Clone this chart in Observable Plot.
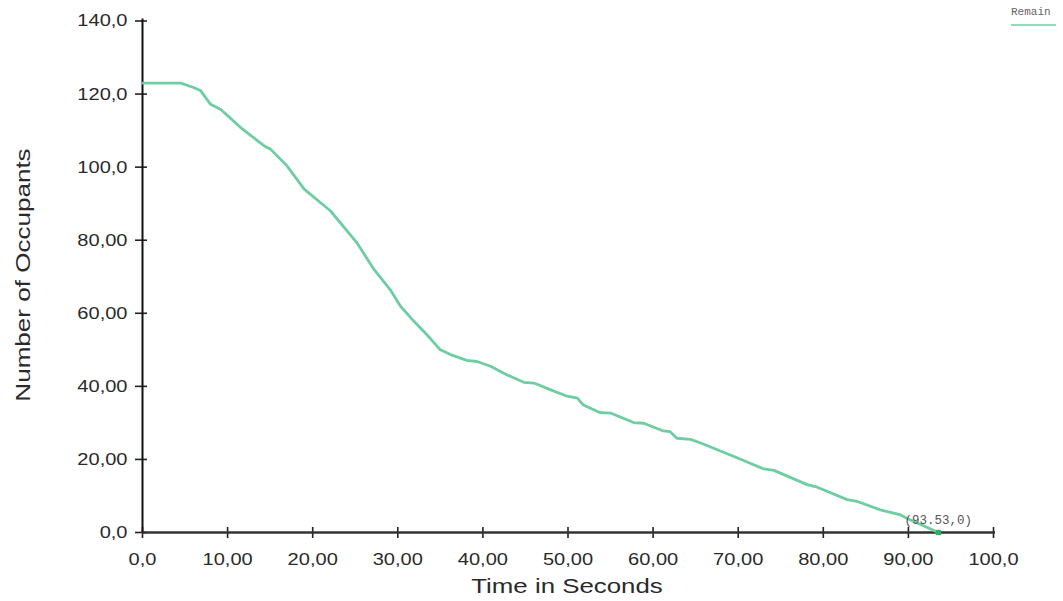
<!DOCTYPE html>
<html>
<head>
<meta charset="utf-8">
<script src="https://cdn.jsdelivr.net/npm/d3@7"></script>
<script src="https://cdn.jsdelivr.net/npm/@observablehq/plot@0.6"></script>
<style>
  body { margin: 0; background: #fff; }
  #wrap { position: relative; width: 1063px; height: 601px; overflow: hidden; }
  .title { position: absolute; font-family: Arial, "Liberation Sans", sans-serif; font-size: 21px; color: #2a2a2a; white-space: nowrap; line-height: 1; }
  #xtitle { left: 567px; top: 575px; transform: translateX(-50%) scaleX(1.23); }
  #ytitle { left: 22px; top: 275px; transform: translate(-50%, -50%) rotate(-90deg) scaleX(1.24); }
  #legend { position: absolute; left: 1011px; top: 6px; font-family: "Liberation Mono", monospace; font-size: 11px; color: #666; }
  #legendline { position: absolute; left: 1011px; top: 24px; width: 45px; height: 2px; background: #8fdcb8; }
</style>
</head>
<body>
<div id="wrap"></div>
<script>
// Series: remaining occupants over time
const time   = [0, 4.5, 6.0, 6.8, 8.0, 9.2, 11.5, 14.3, 15.0, 17.0, 19.0, 22.1, 25.2, 27.2, 28.0, 29.1, 30.3, 31.9, 33.4, 35.0, 36.2, 38.1, 39.3, 40.9, 42.8, 44.8, 46.0, 47.9, 49.9, 51.1, 51.8, 53.8, 55.0, 57.7, 58.9, 61.2, 62.0, 62.8, 64.4, 65.6, 69.5, 73.0, 74.2, 78.1, 79.3, 82.8, 84.0, 86.7, 89.1, 89.8, 93.53];
const remain = [123, 123, 121.8, 121, 117.2, 115.8, 110.9, 105.8, 105, 100.3, 94, 88, 79.3, 72, 69.7, 66.5, 62, 57.8, 54.2, 50, 48.7, 47.1, 46.8, 45.5, 43.2, 41.1, 40.9, 39.1, 37.3, 36.8, 34.9, 32.8, 32.7, 30.1, 29.9, 27.8, 27.6, 25.8, 25.5, 24.5, 20.8, 17.4, 17.0, 13.1, 12.4, 9.0, 8.5, 6.2, 4.8, 3.9, 0];

const xTicks = [0, 10, 20, 30, 40, 50, 60, 70, 80, 90, 100];
const xTickLabels = ["0,0", "10,00", "20,00", "30,00", "40,00", "50,00", "60,00", "70,00", "80,00", "90,00", "100,0"];
const yTicks = [0, 20, 40, 60, 80, 100, 120, 140];
const yTickLabels = ["0,0", "20,00", "40,00", "60,00", "80,00", "100,0", "120,0", "140,0"];

const seriesName = "Remain";
const xTitle = "Time in Seconds";
const yTitle = "Number of Occupants";

const endTime = [93.53];
const endValue = [0];
const endLabel = ["(93.53,0)"];

const rows = time.map((t, i) => ({t, v: remain[i]}));
const endRows = endTime.map((t, i) => ({t, v: endValue[i], label: endLabel[i]}));

const chart = Plot.plot({
  width: 1063,
  height: 601,
  marginLeft: 142,
  marginRight: 70,
  marginTop: 20.5,
  marginBottom: 69,
  x: {domain: [0, 100]},
  y: {domain: [0, 140]},
  style: {fontFamily: "Arial, 'Liberation Sans', sans-serif", background: "#fff", overflow: "visible"},
  marks: [
    Plot.axisY({ticks: yTicks, tickSize: 12, dx: 5, tickFormat: () => "", label: null, stroke: "#222", strokeWidth: 1.6}),
    Plot.axisY({ticks: yTicks, tickSize: 0, tickPadding: 15, tickFormat: d => yTickLabels[yTicks.indexOf(d)], label: null, fontSize: 17, fill: "#2a2a2a"}),
    Plot.axisX({ticks: xTicks, tickSize: 11, dy: -5, tickFormat: () => "", label: null, stroke: "#222", strokeWidth: 1.6}),
    Plot.axisX({ticks: xTicks, tickSize: 0, tickPadding: 20, tickFormat: d => xTickLabels[xTicks.indexOf(d)], label: null, fontSize: 17, fill: "#2a2a2a"}),
    Plot.ruleY([0], {stroke: "#333", strokeWidth: 2.4, insetRight: -2}),
    Plot.ruleX([0], {stroke: "#111", strokeWidth: 2, insetTop: -2}),
    Plot.line(rows, {x: "t", y: "v", stroke: "#6fcda2", strokeWidth: 2.8}),
    Plot.dot(endRows, {x: "t", y: "v", symbol: "square", r: 3, fill: "#2fae63"}),
    Plot.text(endRows, {x: "t", y: "v", text: "label", textAnchor: "start", dx: -34, dy: -13, fontFamily: "'Liberation Mono', monospace", fontSize: 12.5, fill: "#555"})
  ]
});

// widen tick label glyphs horizontally (the reference uses a wide sans face)
chart.querySelectorAll('g[aria-label="x-axis tick label"] text, g[aria-label="y-axis tick label"] text').forEach(t => {
  const tr = t.getAttribute("transform");
  if (tr) {
    t.setAttribute("transform", tr + " scale(1.18,1)");
  } else {
    const x = +(t.getAttribute("x") || 0), y = +(t.getAttribute("y") || 0);
    t.setAttribute("transform", `translate(${x},${y}) scale(1.18,1) translate(${-x},${-y})`);
  }
});

const wrap = document.getElementById("wrap");
wrap.appendChild(chart);

const xt = document.createElement("div");
xt.className = "title"; xt.id = "xtitle"; xt.textContent = xTitle;
wrap.appendChild(xt);
const yt = document.createElement("div");
yt.className = "title"; yt.id = "ytitle"; yt.textContent = yTitle;
wrap.appendChild(yt);
const lg = document.createElement("div");
lg.id = "legend"; lg.textContent = seriesName;
wrap.appendChild(lg);
const ll = document.createElement("div");
ll.id = "legendline";
wrap.appendChild(ll);
</script>
</body>
</html>
